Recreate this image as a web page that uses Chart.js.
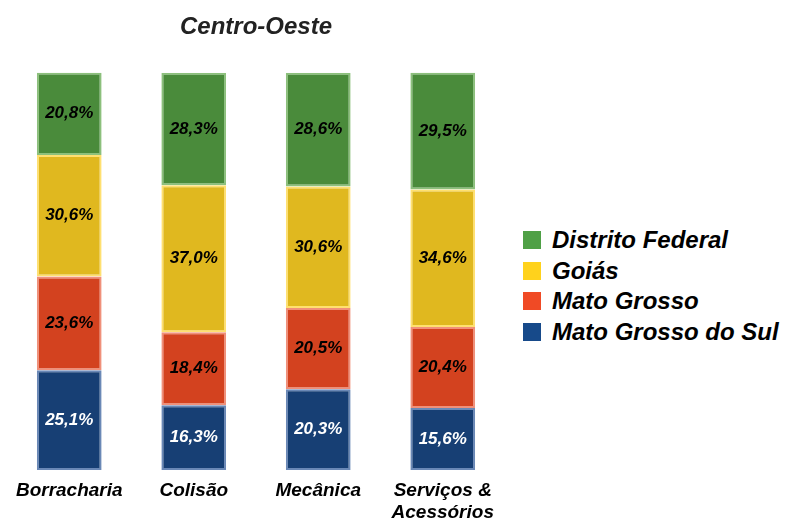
<!DOCTYPE html>
<html>
<head>
<meta charset="utf-8">
<script src="https://cdn.jsdelivr.net/npm/chart.js@4/dist/chart.umd.min.js"></script>
<style>
  body { margin: 0; background: #fff; font-family: "Liberation Sans", Arial, sans-serif; }
  #wrap { position: absolute; left: 0; top: 0; width: 512px; height: 522px; }
  #legend { position: absolute; left: 523px; top: 225px; }
  .item { display: flex; align-items: center; height: 30.5px; font-weight: bold; font-style: italic; font-size: 24px; color: #000; white-space: nowrap; }
  .box { width: 18px; height: 18px; margin-right: 11px; flex: none; }
</style>
</head>
<body>
<div id="wrap"><canvas id="chart"></canvas></div>
<div id="legend"></div>
<script>
// categories and series (percent shares)
const categories = ['Borracharia', 'Colisão', 'Mecânica', ['Serviços &', 'Acessórios']];
const distritoFederal = [20.8, 28.3, 28.6, 29.5];
const goias = [30.6, 37.0, 30.6, 34.6];
const matoGrosso = [23.6, 18.4, 20.5, 20.4];
const matoGrossoDoSul = [25.1, 16.3, 20.3, 15.6];

const font = 'Liberation Sans';

// stacked bottom-up: MS, MT, GO, DF
const datasets = [
  { label: 'Mato Grosso do Sul', data: matoGrossoDoSul, backgroundColor: '#173F74', borderColor: '#6A88B6', legend: '#174A8A', text: '#fff' },
  { label: 'Mato Grosso', data: matoGrosso, backgroundColor: '#D3421F', borderColor: '#F0907A', legend: '#F04A25', text: '#000' },
  { label: 'Goiás', data: goias, backgroundColor: '#E0B81F', borderColor: '#FFE070', legend: '#FFD21C', text: '#000' },
  { label: 'Distrito Federal', data: distritoFederal, backgroundColor: '#4A8B3B', borderColor: '#8CC07C', legend: '#4FA046', text: '#000' }
];

// labels inside each segment
const valueLabels = {
  id: 'valueLabels',
  afterDatasetsDraw(chart) {
    const ctx = chart.ctx;
    ctx.save();
    ctx.font = 'italic bold 17px "' + font + '"';
    ctx.textAlign = 'center';
    ctx.textBaseline = 'middle';
    chart.data.datasets.forEach((ds, i) => {
      chart.getDatasetMeta(i).data.forEach((bar, j) => {
        const p = bar.getCenterPoint();
        ctx.fillStyle = ds.text;
        ctx.fillText(ds.data[j].toFixed(1).replace('.', ',') + '%', p.x, p.y);
      });
    });
    ctx.restore();
  }
};

new Chart(document.getElementById('chart'), {
  type: 'bar',
  data: {
    labels: categories,
    datasets: datasets.map(d => ({
      label: d.label,
      data: d.data,
      backgroundColor: d.backgroundColor,
      borderColor: d.borderColor,
      borderWidth: 2,
      borderSkipped: false,
      barPercentage: 1,
      categoryPercentage: 0.52,
      text: d.text
    }))
  },
  options: {
    responsive: true,
    maintainAspectRatio: false,
    animation: false,
    layout: { padding: { left: 7, right: 7, bottom: 0 } },
    plugins: {
      legend: { display: false },
      tooltip: { enabled: false },
      title: {
        display: true,
        text: 'Centro-Oeste',
        color: '#222',
        font: { family: font, size: 24, weight: 'bold', style: 'italic', lineHeight: 1.2 },
        padding: { top: 13, bottom: 31 }
      }
    },
    scales: {
      x: {
        stacked: true,
        grid: { display: false },
        border: { display: false },
        afterFit(scale) { scale.height = 52; },
        ticks: {
          color: '#000',
          padding: 2,
          maxRotation: 0,
          autoSkip: false,
          font: { family: font, size: 19, weight: 'bold', style: 'italic', lineHeight: 1.16 }
        }
      },
      y: {
        stacked: true,
        display: false,
        min: 0,
        max: 100
      }
    }
  },
  plugins: [valueLabels]
});

// legend, top to bottom
const legendEl = document.getElementById('legend');
datasets.slice().reverse().forEach(d => {
  const item = document.createElement('div');
  item.className = 'item';
  item.innerHTML = '<span class="box" style="background:' + d.legend + '"></span>' + d.label;
  legendEl.appendChild(item);
});
</script>
</body>
</html>
